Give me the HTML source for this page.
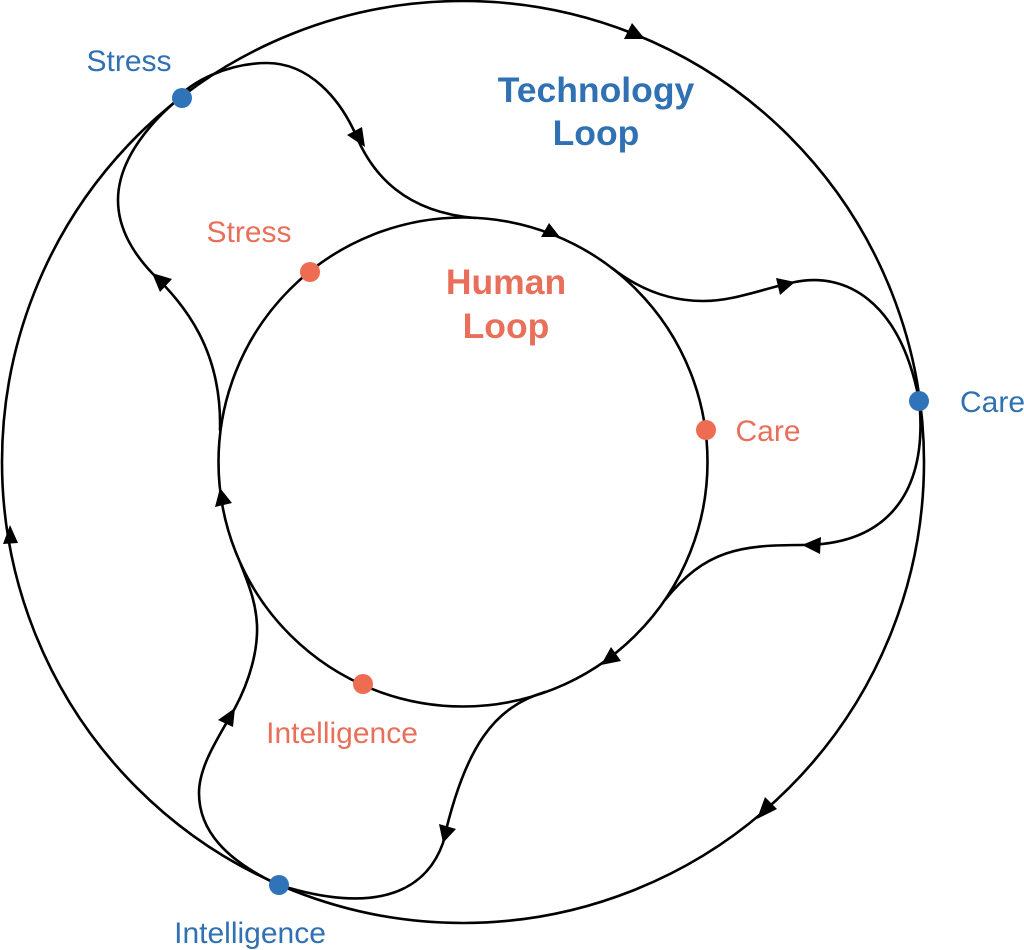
<!DOCTYPE html>
<html>
<head>
<meta charset="utf-8">
<style>
html,body{margin:0;padding:0;background:#fff;width:1024px;height:950px;overflow:hidden}
svg{display:block}
text{font-family:"Liberation Sans",sans-serif}
</style>
</head>
<body>
<svg width="1024" height="950" viewBox="0 0 1024 950" xmlns="http://www.w3.org/2000/svg">
<g fill="none" stroke="#000" stroke-width="2.6" stroke-linecap="round">
<circle cx="463" cy="462" r="461"/>
<circle cx="463" cy="462" r="244.5"/>
<path d="M176,100 C190,82 228,63 267,63 C310,63 340,100 355,133 C372,175 405,212 475,218"/>
<path d="M190,90 C150,120 118,160 118,200 C118,230 135,255 152,273 C185,305 222,350 220,430"/>
<path d="M612,268 C640,290 670,301 703,301 C735,301 765,288 795,282 C845,272 900,300 919,400"/>
<path d="M920,410 C925,490 890,545 802,545 C740,545 705,550 665,600"/>
<path d="M545,692 C495,707 465,745 443,843 C428,885 385,918 279,885"/>
<path d="M279,885 C225,860 199,830 199,793 C199,765 220,735 235,708 C250,680 258,650 257,625 C256,605 251,590 241,565"/>
</g>
<g fill="#000">
<polygon points="645,39 624,39 632,23"/>
<polygon points="560,237 541,237 549,223"/>
<polygon points="795,282 776,278 780,295"/>
<polygon points="365,147 347,135 362,127"/>
<polygon points="152,273 172,279 160,292"/>
<polygon points="220,488 215,507 232,503"/>
<polygon points="802,545 821,537 820,554"/>
<polygon points="601,665 611,647 621,661"/>
<polygon points="443,843 439,824 456,829"/>
<polygon points="235,708 218,720 233,727"/>
<polygon points="10,525 3,544 18,543"/>
<polygon points="757,819 777,809 765,797"/>
</g>
<g fill="#2f74b9">
<circle cx="182" cy="98" r="10"/>
<circle cx="919" cy="401" r="10"/>
<circle cx="279" cy="885" r="10"/>
</g>
<g fill="#ee6c52">
<circle cx="310" cy="272" r="10"/>
<circle cx="706" cy="430" r="10"/>
<circle cx="363" cy="684" r="10"/>
</g>
<g fill="#3071b3" font-size="30">
<text x="129" y="71" text-anchor="middle">Stress</text>
<text x="992.5" y="412" text-anchor="middle">Care</text>
<text x="250" y="943" text-anchor="middle">Intelligence</text>
</g>
<g fill="#e8705a" font-size="30">
<text x="249" y="242" text-anchor="middle">Stress</text>
<text x="768" y="441" text-anchor="middle">Care</text>
<text x="342" y="743" text-anchor="middle">Intelligence</text>
</g>
<g fill="#3071b3" font-size="35.5" font-weight="bold" text-anchor="middle">
<text x="596" y="102">Technology</text>
<text x="596" y="145">Loop</text>
</g>
<g fill="#e8705a" font-size="35.5" font-weight="bold" text-anchor="middle">
<text x="506" y="294">Human</text>
<text x="506" y="338">Loop</text>
</g>
</svg>
</body>
</html>
